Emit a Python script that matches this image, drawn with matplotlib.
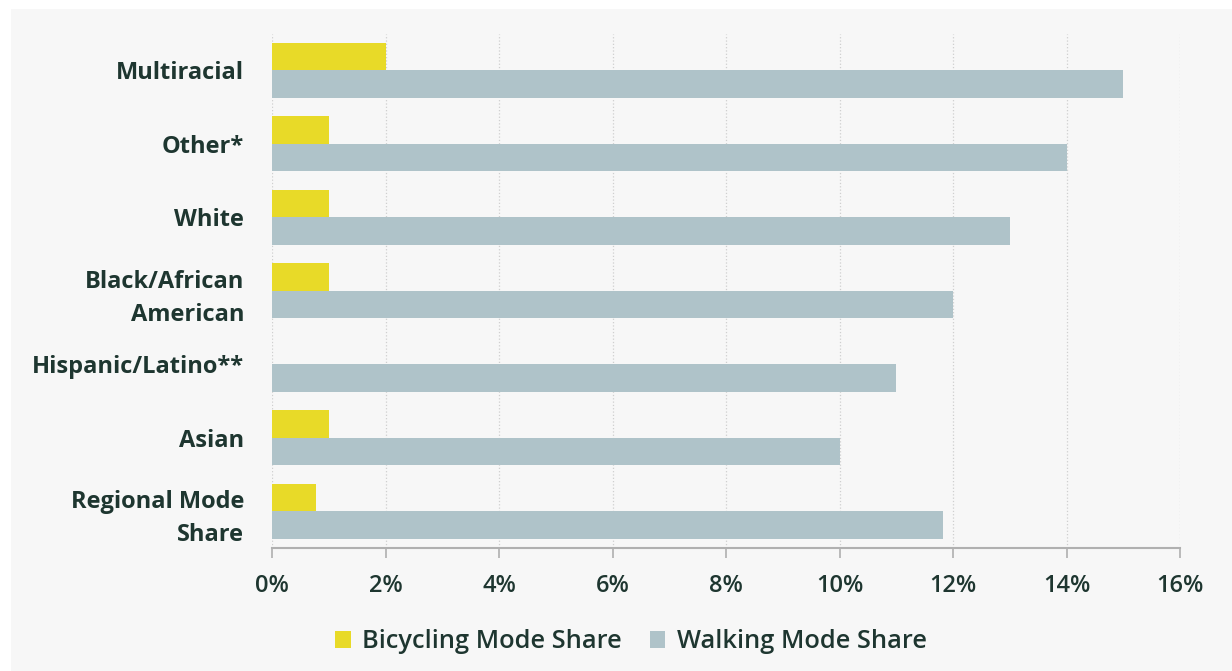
import matplotlib.pyplot as plt
from matplotlib.patches import Rectangle
from matplotlib.ticker import FuncFormatter
import numpy as np

plt.rcParams["font.family"] = ["Open Sans", "DejaVu Sans"]

groups = ['Multiracial', 'Other*', 'White', 'Black/African\nAmerican',
          'Hispanic/Latino**', 'Asian', 'Regional Mode\nShare']
bike = [2, 1, 1, 1, 0, 1, 0.78]
walk = [15, 14, 13, 12, 11, 10, 11.83]

text_col = '#1e3630'
bike_col = '#e8da28'
walk_col = '#afc3c9'

fig = plt.figure(figsize=(12.32, 6.71), dpi=100, facecolor='white')
fig.patches.append(Rectangle((11 / 1232, 0), 1, 1 - 9 / 671, transform=fig.transFigure,
                             facecolor='#f7f7f7', edgecolor='none', zorder=-1))
ax = fig.add_axes([272 / 1232, 1 - 548 / 671, (1180 - 272) / 1232, (548 - 33.5) / 671])
ax.set_facecolor('none')

y = np.arange(len(groups))
h = 0.375
ax.barh(y - h / 2, bike, height=h, color=bike_col, edgecolor='none',
        label='Bicycling Mode Share', zorder=3)
ax.barh(y + h / 2, walk, height=h, color=walk_col, edgecolor='none',
        label='Walking Mode Share', zorder=3)

ax.set_ylim(len(groups) - 0.5, -0.5)
ax.set_xlim(0, 16)
ax.set_xticks(np.arange(0, 17, 2))
ax.xaxis.set_major_formatter(FuncFormatter(lambda v, p: '{:.0f}%'.format(v)))
ax.set_yticks(y)
ax.set_yticklabels(groups, fontsize=17, fontweight='bold', color=text_col, linespacing=1.5)
ax.tick_params(axis='y', length=0, pad=20)
ax.tick_params(axis='x', length=7, width=1.2, color='#b0b0b0', pad=12,
               labelsize=17, labelcolor=text_col)
for t in ax.get_xticklabels():
    t.set_fontweight('semibold')

ax.grid(axis='x', linestyle=':', color='#cfcfcf', linewidth=0.9, zorder=0)
for s in ['top', 'right', 'left']:
    ax.spines[s].set_visible(False)
ax.spines['bottom'].set_color('#b0b0b0')
ax.spines['bottom'].set_linewidth(1.5)

leg = fig.legend(loc='center', bbox_to_anchor=(631 / 1232, 1 - 642 / 671), ncol=2,
                 frameon=False, fontsize=18.3, handlelength=0.6, handleheight=0.6,
                 handletextpad=0.45, columnspacing=1.1)
for t in leg.get_texts():
    t.set_color(text_col)
    t.set_fontweight('semibold')

fig.savefig('out.png', dpi=100, facecolor=fig.get_facecolor())
